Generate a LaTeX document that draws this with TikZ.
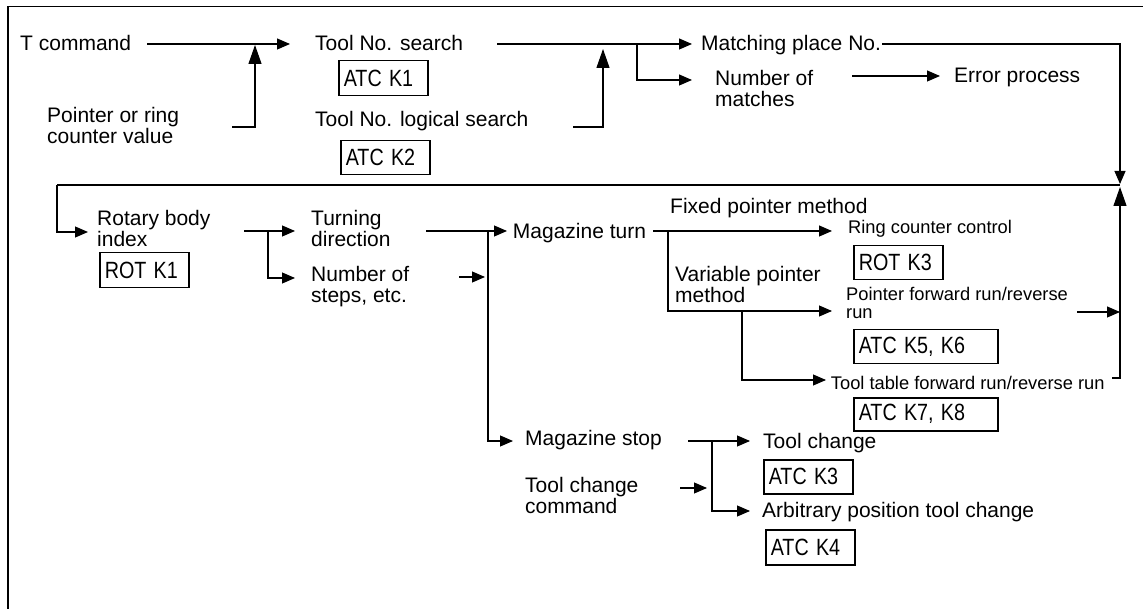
\documentclass[tikz,border=0pt]{standalone}
\usepackage{fontspec}
\usepackage{graphicx}
\setmainfont{Liberation Sans}
\usetikzlibrary{arrows.meta,calc}
\newcommand\mst{\rule{0pt}{15.5pt}}
\newcommand\sst{\rule{0pt}{14pt}}
\newcommand\bx[1]{\scalebox{0.84}[1]{\fontsize{23.5}{23.5}\selectfont\spaceskip=0.37em\relax #1}}
\begin{document}
\begin{tikzpicture}[x=1pt,y=-1pt,
  lbl/.style={inner sep=0pt, anchor=north west, align=left,
    font=\fontsize{21}{21}\selectfont, execute at begin node=\mst},
  slbl/.style={inner sep=0pt, anchor=north west, align=left,
    font=\fontsize{18.3}{17.5}\selectfont, execute at begin node=\sst},
  cbox/.style 2 args={draw, line width=1.5pt, inner ysep=0pt, inner xsep=5pt,
    anchor=north west, minimum width=#1, minimum height=#2,
    text width=#1-10pt, align=left},
  conn/.style={line width=1.1pt, -{Triangle[length=13pt,width=11pt]}},
  plain/.style={line width=1.1pt},
  bigup/.style={line width=1.1pt, -{Triangle[length=19pt,width=13pt]}},
  frame/.style={line width=1.7pt}]
\useasboundingbox (0,0) rectangle (1143,609);
\fill[white] (0,0) rectangle (1143,609);
\draw[frame] (1143,6.5) -- (8,6.5) -- (8,609);

% ---------- row 1 ----------
\node[lbl] (tcmd) at (20,34.5) {T command};
\node[lbl] (ptr) at (47,107.5) {Pointer or ring\\counter value};
\node[lbl] (search) at (315,34.5) {Tool No. search};
\node[cbox={89pt}{35pt}] (k1) at (338,60) {\bx{ATC K1}};
\node[lbl] (lsearch) at (315,110.5) {Tool No. logical search};
\node[cbox={89pt}{34pt}] (k2) at (340,140) {\bx{ATC K2}};
\node[lbl] (match) at (701,34.5) {Matching place No.};
\node[lbl] (nmatch) at (715,70) {Number of\\matches};
\node[lbl] (err) at (954,66.5) {Error process};

% ---------- row 2 ----------
\node[lbl] (rotary) at (97,210.2) {Rotary body\\index};
\node[cbox={89pt}{35pt}] (rk1) at (99,252) {\bx{ROT K1}};
\node[lbl] (turn) at (311,210.2) {Turning\\direction};
\node[lbl] (steps) at (311,266) {Number of\\steps, etc.};
\node[lbl] (magturn) at (512.7,222.5) {Magazine turn};
\node[lbl] (fixed) at (670,197.5) {Fixed pointer method};
\node[lbl] (var) at (675,266.5) {Variable pointer\\method};
\node[slbl] (ring) at (848,219) {Ring counter control};
\node[cbox={89pt}{34pt}] (rk3) at (853,245) {\bx{ROT K3}};
\node[slbl] (pfr) at (846,287.5) {Pointer forward run/reverse\\run};
\node[cbox={144pt}{34pt}] (k56) at (853,329) {\bx{ATC K5, K6}};
\node[slbl] (ttf) at (830.7,375) {Tool table forward run/reverse run};
\node[cbox={144pt}{33pt}] (k78) at (853,397) {\bx{ATC K7, K8}};

% ---------- bottom ----------
\node[lbl] (magstop) at (525,429.5) {Magazine stop};
\node[lbl] (tcc) at (525,477.2) {Tool change\\command};
\node[lbl] (tchg) at (763,432.5) {Tool change};
\node[cbox={89pt}{34pt}] (k3) at (763,459) {\bx{ATC K3}};
\node[lbl] (arb) at (762,502) {Arbitrary position tool change};
\node[cbox={89pt}{35pt}] (k4) at (765,529) {\bx{ATC K4}};

% ---------- junction coordinates ----------
\coordinate (j1) at (255,127);
\coordinate (j2) at (603,127);
\coordinate (j3) at (637,44);
\coordinate (jr) at (1120,44);
\coordinate (jl) at (57,185);
\coordinate (jrt) at (1120,185);
\coordinate (j4) at (268,231);
\coordinate (j5) at (488,231);
\coordinate (j6) at (668,231);
\coordinate (j7) at (742,311);
\coordinate (j8) at (712,441);

% ---------- connectors ----------
\draw[conn] (147,44) -- (290,44);
\draw[bigup] (232,127) -- (j1) -- (255,45);
\draw[conn] (497,44) -- (692,44);
\draw[bigup] (573,127) -- (j2) -- (603,49);
\draw[conn] (j3) |- (692,80);
\draw[conn] (882,44) -- (jr) -- (1120,184);
\draw[conn] (852,76) -- (940,76);
\draw[plain] (jrt) -- (jl);
\draw[conn] (jl) |- (88,232);

\draw[conn] (244,231) -- (295,231);
\draw[conn] (j4) |- (295,278);
\draw[conn] (426,231) -- (507,231);
\draw[conn] (459,277) -- (485,277);
\draw[conn] (j5) |- (513,441);
\draw[conn] (653,231) -- (832,231);
\draw[conn] (j6) |- (832,311);
\draw[conn] (j7) |- (826,380);
\draw[conn] (1077,312) -- (1120,312);
\draw[bigup] (1112,378) -- (1120,378) -- (1120,187);

\draw[conn] (688,441) -- (750,441);
\draw[conn] (j8) |- (750,511);
\draw[conn] (680,488) -- (707,488);
\end{tikzpicture}
\end{document}
